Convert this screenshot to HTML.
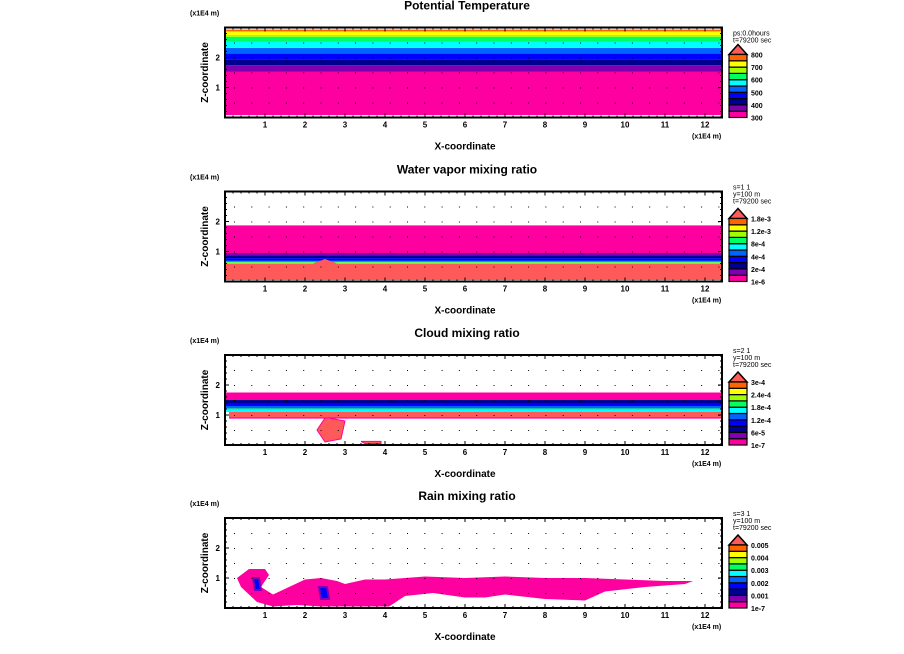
<!DOCTYPE html>
<html><head><meta charset="utf-8">
<style>
html,body{margin:0;padding:0;background:#fff;}
svg{display:block;font-family:"Liberation Sans",sans-serif;font-weight:bold;}
</style></head>
<body>
<svg id="fig" width="904" height="654" viewBox="0 0 904 654"></svg>
<script>
// ---- data ----
const xTicks=[1,2,3,4,5,6,7,8,9,10,11,12];
const zTicks=[1,2];
const titles=["Potential Temperature","Water vapor mixing ratio","Cloud mixing ratio","Rain mixing ratio"];
const infoText=[["ps:0.0hours","t=79200 sec"],["s=1 1","y=100 m","t=79200 sec"],["s=2 1","y=100 m","t=79200 sec"],["s=3 1","y=100 m","t=79200 sec"]];
const legendLabels=[["800","700","600","500","400","300"],["1.8e-3","1.2e-3","8e-4","4e-4","2e-4","1e-6"],["3e-4","2.4e-4","1.8e-4","1.2e-4","6e-5","1e-7"],["0.005","0.004","0.003","0.002","0.001","1e-7"]];
const palette=["#ff00a0","#7f00b0","#000090","#0000ff","#0064ff","#00ffff","#00ff64","#a0ff00","#ffff00","#ff6400"];
// panel 1 band boundaries (z in 1e4 m), lower->upper, colour index
const thetaLow=[0.08,1.52,1.74,1.93,2.13,2.32,2.52,2.69,2.75,2.87,2.93];
const thetaCol=[0,1,2,3,4,5,6,7,8,9];
// panel 2 layers: [zlow, zhigh, colour]
const qvLow=[0.05,0.6,0.63,0.66,0.7,0.78,0.87,0.95];
const qvHigh=[0.6,0.63,0.66,0.7,0.78,0.87,0.95,1.87];
const qvCol=["#ff5a5a","#ffff00","#00ff64","#0064ff","#0000ff","#000090","#7f00b0","#ff00a0"];
// panel 3 layers
const qcLow=[0.88,0.93,1.1,1.17,1.22,1.3,1.4,1.5];
const qcHigh=[0.93,1.1,1.17,1.22,1.3,1.4,1.5,1.75];
const qcCol=["#ff00a0","#ff5a5a","#00ffff","#00ff64","#0064ff","#0000ff","#000090","#ff00a0"];
// panel 3 salmon blobs (x, z polygons)
const qcBlobX=[[2.6,3.0,2.9,2.5,2.3,2.5],[3.4,3.9,3.9,3.5]];
const qcBlobZ=[[0.9,0.8,0.2,0.1,0.5,0.9],[0.12,0.12,0.05,0.05]];
// panel 4 rain outline
const rainX=[0.3,0.6,1.0,1.1,0.9,1.2,1.6,2.0,2.4,2.8,3.0,3.5,4.0,5.0,6.0,7.0,8.0,9.0,10.0,11.0,11.7,11.5,10.5,9.5,9.0,8.0,7.0,6.5,6.0,5.2,4.5,4.1,3.6,3.0,2.4,1.8,1.2,0.8,0.4];
const rainZ=[1.0,1.3,1.3,1.1,0.7,0.45,0.7,0.95,1.0,0.9,0.8,0.95,0.95,1.05,1.0,1.05,1.0,1.0,0.95,0.9,0.9,0.8,0.7,0.55,0.25,0.3,0.45,0.35,0.35,0.5,0.4,0.05,0.05,0.05,0.05,0.1,0.05,0.2,0.7];
const rainCoreX=[[0.7,0.85,0.9,0.75],[2.35,2.55,2.6,2.4]];
const rainCoreZ=[[1.0,1.0,0.6,0.6],[0.7,0.7,0.3,0.3]];

// ---- drawing ----
const svg=document.getElementById('fig');
const NS='http://www.w3.org/2000/svg';
const bases=[117.5,281.5,445,608];
const X0=225,XU=40,ZU=30,XR=722;
function xs(x){return X0+XU*x;}
function mk(tag,attrs,parent){const e=document.createElementNS(NS,tag);for(const k in attrs)e.setAttribute(k,attrs[k]);(parent||svg).appendChild(e);return e;}
function txt(s,attrs,parent){const e=mk('text',attrs,parent);e.textContent=s;return e;}

bases.forEach((b,p)=>{
  const zs=z=>b-ZU*z;
  const top=b-90;
  const g=mk('g',{});
  
  
  const clip=mk('clipPath',{id:'c'+p},g);
  mk('rect',{x:X0,y:top,width:XR-X0,height:90},clip);
  const pg=mk('g',{'clip-path':'url(#c'+p+')'},g);
  
  
  if(p===0){
    for(let i=0;i<thetaCol.length;i++){
      const lo=thetaLow[i],hi=thetaLow[i+1]!==undefined?thetaLow[i+1]:3.05;
      const r=mk('rect',{x:X0,y:zs(hi),width:XR-X0,height:zs(lo)-zs(hi),fill:palette[thetaCol[i]]},pg);
      
      
    }
  } else if(p===1||p===2){
    const L=p===1?qvLow:qcLow,H=p===1?qvHigh:qcHigh,C=p===1?qvCol:qcCol;
    for(let i=0;i<L.length;i++){
      let x1=0;
      if(p===2&&i<=1)x1=0.1;
      const r=mk('rect',{x:xs(x1),y:zs(H[i]),width:XR-xs(x1),height:zs(L[i])-zs(H[i]),fill:C[i]},pg);
      
      
    }
    if(p===1){
      const bump=mk('polygon',{points:[[2.2,0.6],[2.5,0.75],[2.8,0.6],[2.8,0.4],[2.2,0.4]].map(q=>xs(q[0])+','+zs(q[1])).join(' '),fill:'#ff5a5a'},pg);
      
      
    }
    if(p===2){
      qcBlobX.forEach((bx,k)=>{
        const pl=mk('polygon',{points:bx.map((x,j)=>xs(x)+','+zs(qcBlobZ[k][j])).join(' '),fill:'#ff5a5a',stroke:'#ff00a0','stroke-width':1},pg);
        
        
      });
    }
  } else {
    const pl=mk('polygon',{points:rainX.map((x,j)=>xs(x)+','+zs(rainZ[j])).join(' '),fill:'#ff00a0'},pg);
    
    
    rainCoreX.forEach((cx,k)=>{
      const c=mk('polygon',{points:cx.map((x,j)=>xs(x)+','+zs(rainCoreZ[k][j])).join(' '),fill:'#0000ff',stroke:'#7f00b0','stroke-width':2},pg);
      
      
    });
  }
  // dotted grid
  for(let gx=X0+9;gx<XR;gx+=17.3)for(let gz=0.5;gz<3;gz+=0.5){
    mk('rect',{x:gx,y:zs(gz),width:1,height:1,fill:'#000'},g);
  }
  // frame
  const fr=mk('rect',{x:X0,y:top,width:XR-X0,height:90,fill:'none',stroke:'#000','stroke-width':2},g);
  
  
  // ticks
  for(let x=0.2;x<12.45;x+=0.2){const big=Math.abs(x-Math.round(x))<0.01;const L=big?4:2;
    mk('line',{x1:xs(x),x2:xs(x),y1:b,y2:b-L,stroke:'#000'},g);mk('line',{x1:xs(x),x2:xs(x),y1:top,y2:top+L,stroke:'#000'},g);}
  for(let z=0.2;z<3;z+=0.2){const big=Math.abs(z-Math.round(z))<0.01;const L=big?4:2;
    mk('line',{x1:X0,x2:X0+L,y1:zs(z),y2:zs(z),stroke:'#000'},g);mk('line',{x1:XR,x2:XR-L,y1:zs(z),y2:zs(z),stroke:'#000'},g);}
  xTicks.forEach(t=>{const e=txt(String(t),{x:xs(t),y:b+10,'font-size':8,'text-anchor':'middle'},g);
    });
  zTicks.forEach(t=>{const e=txt(String(t),{x:X0-5,y:zs(t)+3,'font-size':8,'text-anchor':'end'},g);
    });
  const ti=txt(titles[p],{x:467,y:top-18,'font-size':12,'text-anchor':'middle'},g);
  
  const u1=txt('(x1E4 m)',{x:190,y:top-12,'font-size':7},g);
  
  const u2=txt('(x1E4 m)',{x:692,y:b+21,'font-size':7},g);
  
  const xl=txt('X-coordinate',{x:465,y:b+32,'font-size':10,'text-anchor':'middle'},g);
  
  const zl=txt('Z-coordinate',{x:0,y:0,'font-size':10,'text-anchor':'middle',transform:'translate(208,'+(b-45)+') rotate(-90)'},g);
  
  // info text
  infoText[p].forEach((s,k)=>{const e=txt(s,{x:733,y:top+ (infoText[p].length===2?8:-2)+k*7,'font-size':7,'font-weight':'normal'},g);
    });
  // colorbar
  const lg=mk('g',{},g);
  
  
  const cbTop=top+27,cbBot=b,n=10,h=(cbBot-cbTop)/n;
  mk('polygon',{points:`729,${cbTop} 738,${cbTop-10} 747,${cbTop}`,fill:'#ff5a5a',stroke:'#000','stroke-width':1.5},lg);
  for(let i=0;i<n;i++){
    const r=mk('rect',{x:729,y:cbBot-(i+1)*h,width:18,height:h,fill:palette[i],stroke:'#000','stroke-width':1.2},lg);
    
    
  }
  const nL=legendLabels[p].length;
  legendLabels[p].forEach((s,k)=>{const e=txt(s,{x:751,y:cbTop+k*(cbBot-cbTop)/(nL-1)+3,'font-size':7},lg);
    });
});
</script>
</body></html>
